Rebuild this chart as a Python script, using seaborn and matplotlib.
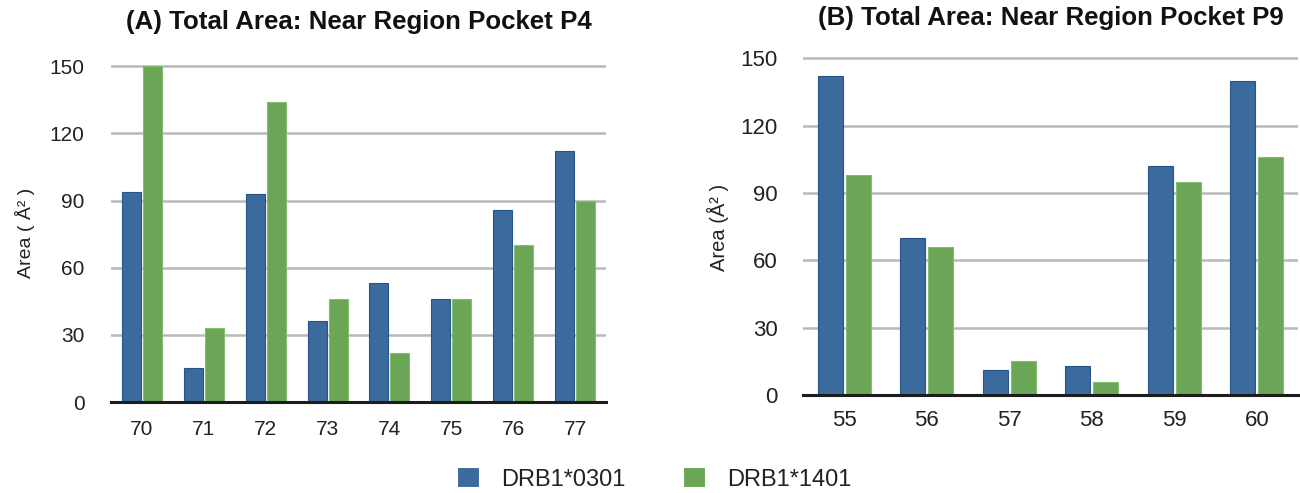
import matplotlib
matplotlib.use("Agg")
import matplotlib.pyplot as plt
import seaborn as sns
import pandas as pd

# Alleles compared in both panels
alleles = ["DRB1*0301", "DRB1*1401"]

# (A) Near region pocket P4
p4_positions = ["70", "71", "72", "73", "74", "75", "76", "77"]
p4_drb1_0301 = [94, 15, 93, 36, 53, 46, 86, 112]
p4_drb1_1401 = [150, 33, 134, 46, 22, 46, 70, 90]

# (B) Near region pocket P9
p9_positions = ["55", "56", "57", "58", "59", "60"]
p9_drb1_0301 = [142, 70, 11, 13, 102, 140]
p9_drb1_1401 = [98, 66, 15, 6, 95, 106]

y_ticks = [0, 30, 60, 90, 120, 150]

fill_colors = {"DRB1*0301": "#3b6b9c", "DRB1*1401": "#6ba656"}
edge_colors = {"DRB1*0301": "#27558a", "DRB1*1401": "#86bb72"}


def long_table(positions, first, second):
    return pd.DataFrame({
        "position": positions * 2,
        "area": list(first) + list(second),
        "allele": [alleles[0]] * len(positions) + [alleles[1]] * len(positions),
    })


sns.set_theme(style="white")
plt.rcParams["font.family"] = ["Liberation Sans", "DejaVu Sans"]

W, H = 1300, 493
fig = plt.figure(figsize=(W / 100, H / 100), dpi=100)

# axes boxes in pixel units: left, top, right, bottom
boxes = {
    "A": (111, 65, 606, 402),
    "B": (803, 57, 1298, 395),
}


def make_axes(key):
    l, t, r, b = boxes[key]
    return fig.add_axes([l / W, 1 - b / H, (r - l) / W, (b - t) / H])


def draw_panel(ax, positions, first, second, tick_size, xpad, ypad):
    df = long_table(positions, first, second)
    sns.barplot(data=df, x="position", y="area", hue="allele",
                hue_order=alleles, palette=fill_colors, order=positions,
                width=0.68, gap=0.1, linewidth=0.8, saturation=1,
                errorbar=None, ax=ax, legend=True)
    for container, allele in zip(ax.containers, alleles):
        for patch in container:
            patch.set_edgecolor(edge_colors[allele])
    ax.set_ylim(0, 150.6)
    ax.set_yticks(y_ticks)
    ax.set_xlabel("")
    ax.set_ylabel("")
    ax.yaxis.grid(True, color="#b9b9b9", linewidth=1.8)
    ax.xaxis.grid(False)
    ax.set_axisbelow(True)
    for side in ("left", "right", "top"):
        ax.spines[side].set_visible(False)
    ax.spines["bottom"].set_color("#1c1c1c")
    ax.spines["bottom"].set_linewidth(2.2)
    ax.tick_params(axis="both", length=0, labelsize=tick_size, labelcolor="#222222")
    ax.tick_params(axis="x", pad=xpad)
    ax.tick_params(axis="y", pad=ypad)


ax_a = make_axes("A")
draw_panel(ax_a, p4_positions, p4_drb1_0301, p4_drb1_1401, 15, 13, 19)
ax_b = make_axes("B")
draw_panel(ax_b, p9_positions, p9_drb1_0301, p9_drb1_1401, 16, 11, 18)

handles, labels = ax_a.get_legend_handles_labels()
ax_a.get_legend().remove()
ax_b.get_legend().remove()

# panel titles
fig.text(358.5 / W, 1 - 22 / H, "(A) Total Area: Near Region Pocket P4",
         ha="center", va="center", fontsize=18.6, fontweight="bold", color="#111111")
fig.text(1051 / W, 1 - 18 / H, "(B) Total Area: Near Region Pocket P9",
         ha="center", va="center", fontsize=18.6, fontweight="bold", color="#111111")

# y-axis labels
fig.text(25 / W, 1 - 233 / H, "Area ( Å² )", rotation=90,
         ha="center", va="center", fontsize=14, color="#222222")
fig.text(718 / W, 1 - 227 / H, "Area (Å² )", rotation=90,
         ha="center", va="center", fontsize=14.5, color="#222222")

fig.legend(handles, labels, loc="center", bbox_to_anchor=(654 / W, 1 - 479 / H),
           ncol=2, frameon=False, fontsize=17, handlelength=0.93,
           handleheight=0.93, handletextpad=0.93, columnspacing=2.45,
           labelcolor="#222222")

fig.savefig("out.png", dpi=100, facecolor="white")
